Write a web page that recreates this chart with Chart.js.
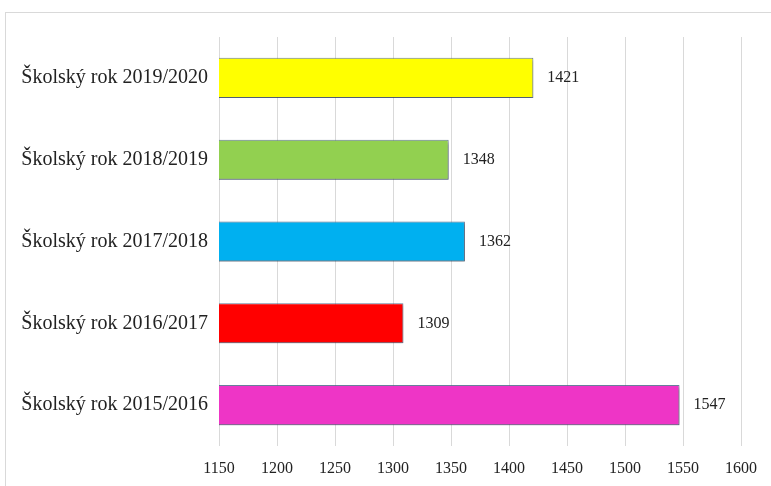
<!DOCTYPE html>
<html>
<head>
<meta charset="utf-8">
<script src="https://cdn.jsdelivr.net/npm/chart.js@4"></script>
<style>
  html, body { margin: 0; padding: 0; background: #fff; }
  #wrap { position: relative; width: 771px; height: 486px; }
  #frame { position: absolute; left: 5px; top: 12px; width: 800px; height: 500px;
           border-left: 1px solid #d9d9d9; border-top: 1px solid #d9d9d9; }
  canvas { position: absolute; left: 0; top: 0; }
</style>
</head>
<body>
<div id="wrap">
  <div id="frame"></div>
  <canvas id="chart" width="771" height="486"></canvas>
</div>
<script>
// school years, top to bottom
const categories = [
  'Školský rok 2019/2020',
  'Školský rok 2018/2019',
  'Školský rok 2017/2018',
  'Školský rok 2016/2017',
  'Školský rok 2015/2016'
];
const values = [1421, 1348, 1362, 1309, 1547];
const barColors = ['#ffff00', '#92d050', '#00b0f0', '#ff0000', '#ee35c6'];
const xTicks = [1150, 1200, 1250, 1300, 1350, 1400, 1450, 1500, 1550, 1600];

// soft shadow under the bars
const shadowPlugin = {
  id: 'barShadow',
  beforeDatasetsDraw(chart) {
    const ctx = chart.ctx;
    ctx.save();
    ctx.shadowColor = 'rgba(0,0,0,0.35)';
    ctx.shadowBlur = 3;
    ctx.shadowOffsetX = 1;
    ctx.shadowOffsetY = 2;
  },
  afterDatasetsDraw(chart) {
    chart.ctx.restore();
  }
};

// value written just right of each bar
const valueLabels = {
  id: 'valueLabels',
  afterDraw(chart) {
    const ctx = chart.ctx;
    const meta = chart.getDatasetMeta(0);
    ctx.save();
    ctx.font = '16px "Liberation Serif", serif';
    ctx.fillStyle = '#222';
    ctx.textBaseline = 'middle';
    ctx.textAlign = 'left';
    meta.data.forEach((bar, i) => {
      ctx.fillText(values[i], bar.x + 14, bar.y);
    });
    ctx.restore();
  }
};

new Chart(document.getElementById('chart'), {
  type: 'bar',
  data: {
    labels: categories,
    datasets: [{
      data: values,
      backgroundColor: barColors,
      borderColor: 'rgba(80,105,140,0.85)',
      borderWidth: 1,
      barPercentage: 0.5,
      categoryPercentage: 0.98
    }]
  },
  options: {
    indexAxis: 'y',
    responsive: false,
    animation: false,
    layout: { padding: { top: 37, right: 30, left: 0, bottom: 0 } },
    plugins: { legend: { display: false }, tooltip: { enabled: false } },
    scales: {
      x: {
        min: 1150,
        max: 1600,
        afterBuildTicks(scale) { scale.ticks = xTicks.map(v => ({ value: v })); },
        afterFit(scale) { scale.height = 40; },
        grid: { color: '#d9d9d9', drawTicks: false },
        border: { display: false },
        ticks: {
          padding: 13,
          color: '#222',
          callback: v => String(v),
          font: { family: '"Liberation Serif", serif', size: 16 }
        }
      },
      y: {
        afterFit(scale) { scale.width = 219; },
        grid: { display: false },
        border: { display: false },
        ticks: {
          padding: 3,
          color: '#222',
          font: { family: '"Liberation Serif", serif', size: 20 }
        }
      }
    }
  },
  plugins: [shadowPlugin, valueLabels]
});
</script>
</body>
</html>
